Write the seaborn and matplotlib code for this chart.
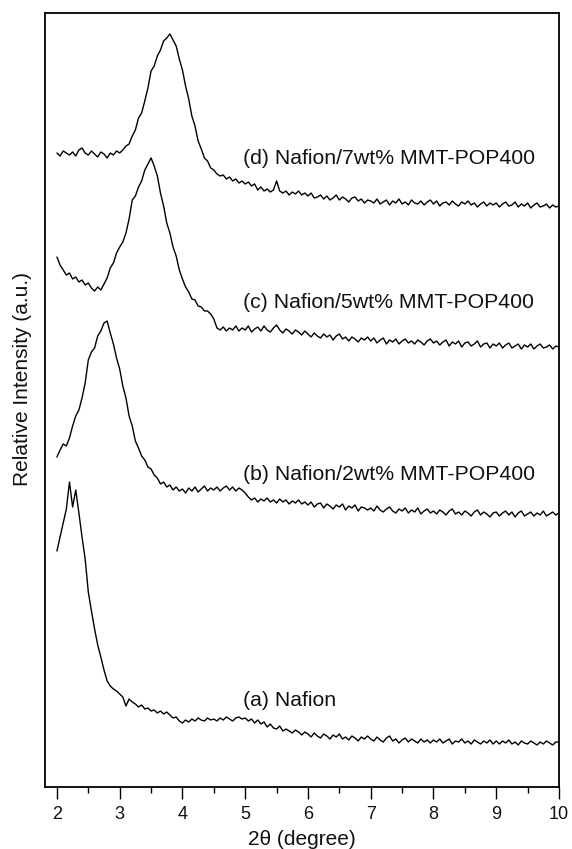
import numpy as np
import pandas as pd
import matplotlib
matplotlib.use("Agg")
import matplotlib.pyplot as plt
import seaborn as sns

# 2-theta sampling grid (degrees), 2.00 .. 10.00 in 0.05 steps
two_theta = np.round(np.arange(2.0, 10.0001, 0.05), 2)

# Stacked intensities (a.u., offsets included)
nafion_7wt = [
    634, 631, 636, 634, 632, 635, 631, 637, 639, 634, 632, 636, 633, 630, 635, 633, 629, 634, 632, 636,
    634, 637, 641, 643, 651, 657, 669, 674, 686, 699, 716, 721, 731, 737, 746, 749, 753, 747, 741, 728,
    717, 701, 688, 671, 661, 646, 638, 629, 626, 619, 617, 613, 611, 612, 608, 610, 606, 608, 604, 606,
    603, 605, 601, 603, 597, 600, 596, 598, 595, 597, 606, 596, 594, 596, 592, 595, 593, 596, 592, 594,
    591, 594, 589, 590, 592, 588, 591, 587, 589, 592, 587, 590, 588, 585, 589, 590, 586, 588, 584, 587,
    586, 584, 588, 583, 585, 587, 582, 586, 584, 588, 583, 585, 582, 587, 584, 583, 586, 582, 585, 587,
    583, 586, 581, 584, 585, 582, 586, 583, 581, 585, 583, 586, 582, 584, 580, 583, 585, 581, 584, 582,
    584, 580, 583, 585, 581, 582, 585, 580, 583, 581, 584, 579, 582, 584, 580, 581, 583, 579, 582, 580,
    581,
]
nafion_5wt = [
    530, 522, 517, 512, 514, 508, 510, 505, 507, 502, 504, 499, 496, 500, 497, 503, 509, 519, 524, 534,
    540, 545, 554, 568, 587, 591, 600, 606, 617, 623, 629, 621, 611, 594, 581, 564, 554, 540, 531, 517,
    508, 500, 495, 488, 487, 481, 480, 476, 476, 473, 468, 459, 457, 460, 456, 459, 457, 461, 456, 459,
    457, 461, 455, 458, 460, 456, 461, 457, 455, 459, 462, 457, 454, 458, 456, 453, 457, 455, 452, 456,
    453, 450, 454, 451, 449, 453, 450, 452, 447, 451, 453, 448, 450, 446, 450, 448, 445, 449, 447, 450,
    446, 449, 444, 447, 449, 443, 447, 445, 448, 443, 446, 448, 444, 446, 443, 447, 445, 442, 446, 448,
    444, 446, 442, 445, 447, 441, 445, 443, 446, 440, 444, 445, 441, 443, 446, 440, 443, 444, 439, 443,
    441, 444, 439, 442, 444, 439, 441, 443, 438, 442, 440, 443, 438, 441, 443, 439, 440, 442, 438, 441,
    440,
]
nafion_2wt = [
    330, 337, 343, 341, 349, 361, 371, 377, 389, 404, 427, 435, 439, 451, 456, 464, 466, 454, 443, 429,
    418, 401, 389, 371, 361, 346, 339, 331, 327, 320, 318, 312, 309, 303, 305, 300, 302, 297, 300, 296,
    298, 294, 299, 296, 300, 295, 298, 301, 296, 299, 297, 300, 296, 299, 301, 297, 300, 296, 299, 297,
    294, 290, 287, 289, 285, 288, 286, 289, 285, 287, 284, 288, 285, 287, 283, 286, 284, 287, 283, 285,
    282, 285, 280, 283, 284, 279, 283, 281, 278, 282, 280, 283, 277, 281, 279, 282, 276, 280, 279, 277,
    279, 276, 281, 277, 275, 278, 280, 276, 274, 278, 276, 279, 274, 277, 275, 279, 273, 276, 278, 274,
    276, 273, 277, 275, 272, 276, 278, 273, 275, 272, 276, 274, 271, 275, 277, 272, 275, 273, 270, 274,
    275, 271, 274, 276, 272, 275, 270, 274, 276, 271, 273, 275, 271, 274, 272, 276, 271, 273, 275, 272,
    274,
]
nafion_pure = [
    236, 250, 264, 278, 305, 280, 297, 274, 250, 228, 195, 176, 158, 142, 130, 117, 106, 101, 98, 96,
    93, 90, 81, 88, 85, 83, 80, 82, 78, 79, 76, 77, 74, 76, 73, 75, 72, 69, 70, 66,
    64, 67, 65, 68, 66, 69, 67, 66, 69, 67, 68, 66, 69, 67, 70, 68, 66, 69, 70, 68,
    69, 66, 68, 64, 67, 63, 65, 60, 63, 59, 58, 61, 56, 58, 56, 54, 57, 55, 52, 55,
    53, 50, 54, 51, 49, 53, 51, 48, 52, 50, 53, 48, 50, 47, 51, 49, 46, 50, 48, 51,
    48, 46, 50, 47, 45, 49, 51, 46, 48, 44, 47, 49, 45, 48, 46, 44, 48, 45, 47, 44,
    47, 45, 48, 44, 46, 48, 43, 46, 45, 48, 44, 46, 43, 47, 45, 43, 46, 44, 47, 43,
    46, 43, 46, 44, 47, 43, 45, 42, 46, 44, 43, 46, 44, 42, 45, 43, 46, 44, 42, 45,
    45,
]

series_names = ["(d) Nafion/7wt% MMT-POP400", "(c) Nafion/5wt% MMT-POP400",
                "(b) Nafion/2wt% MMT-POP400", "(a) Nafion"]
series_values = [nafion_7wt, nafion_5wt, nafion_2wt, nafion_pure]
label_x = [4.96, 4.96, 4.96, 4.96]
label_y = [628, 484, 312, 87]

x_ticks = [2, 3, 4, 5, 6, 7, 8, 9, 10]

rows = []
for name, vals in zip(series_names, series_values):
    for t, v in zip(two_theta, vals):
        rows.append((name, t, v))
df = pd.DataFrame(rows, columns=["sample", "two_theta", "intensity"])

sns.set_theme(style="ticks")
plt.rcParams["font.family"] = ["Liberation Sans", "DejaVu Sans"]

W, H = 572, 849
fig = plt.figure(figsize=(W / 100, H / 100), dpi=100)
ax = fig.add_axes([45 / W, 1 - 787 / H, 514 / W, 774 / H])

sns.lineplot(data=df, x="two_theta", y="intensity", hue="sample",
             palette=["black"] * 4, legend=False, linewidth=1.0,
             estimator=None, sort=False, ax=ax)

for name, lx, ly in zip(series_names, label_x, label_y):
    ax.text(lx, ly, name, fontsize=15.3, ha="left", va="center", color="#111111")

ax.set_xlim(1.81, 10.0)
ax.set_ylim(0, 774)
ax.set_xticks(x_ticks)
ax.set_xticks(np.arange(2.5, 10, 1.0), minor=True)
ax.set_yticks([])
ax.tick_params(axis="x", which="major", direction="out", length=8.5, width=1.0,
               labelsize=13, pad=5, color="black", labelcolor="#111111")
ax.tick_params(axis="x", which="minor", direction="out", length=4.5, width=1.0, color="black")
for s in ax.spines.values():
    s.set_visible(True)
    s.set_linewidth(1.3)
    s.set_color("black")

ax.set_xlabel("2θ (degree)", fontsize=15, color="#111111")
ax.set_ylabel("Relative Intensity (a.u.)", fontsize=15, color="#111111")
ax.xaxis.set_label_coords(0.5, -0.056)
ax.yaxis.set_label_coords(-0.026, 0.527)

fig.savefig("out.png", dpi=100, facecolor="white")
